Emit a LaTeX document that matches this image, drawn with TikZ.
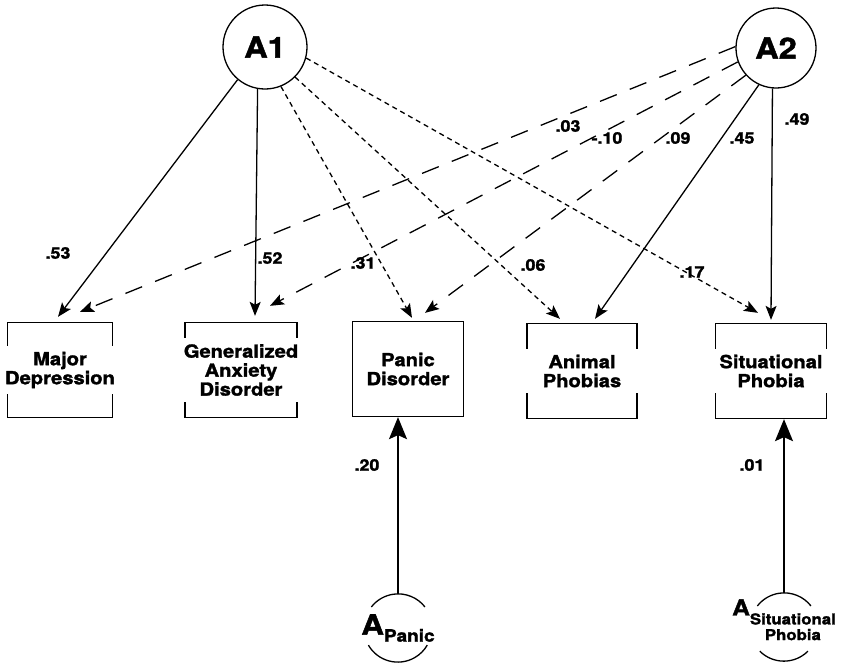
\documentclass[tikz,border=0pt]{standalone}
\usepackage{fontspec}
\setmainfont{TeX Gyre Heros}[FakeStretch=1.12, BoldFeatures={FakeBold=1.6}]
\usetikzlibrary{arrows.meta}

\newcommand{\bxfont}{\fontsize{18}{19}\selectfont\bfseries}
\newcommand{\cffont}{\fontsize{16}{16}\selectfont\bfseries}

\tikzset{
  latent/.style={circle, draw, line width=1.3pt, inner sep=0pt, font=\fontsize{29}{29}\selectfont\bfseries},
  errlat/.style={circle, minimum size=68pt, inner sep=0pt},
  box/.style={draw, line width=1.3pt, minimum height=95pt, align=center, font=\bxfont, inner sep=0pt},
  gap/.style={fill=white, align=center, font=\bxfont, inner xsep=0pt, inner ysep=6pt, minimum width=124pt},
  subname/.style={inner sep=0pt, font=\bfseries},
  coef/.style={font=\cffont, inner sep=0pt},
  load/.style={line width=1.3pt, -{Stealth[length=14pt,width=11pt,inset=3pt]}},
  shortdash/.style={load, dash pattern=on 5pt off 4pt},
  longdash/.style={load, dash pattern=on 18pt off 14pt},
  uniq/.style={line width=1.5pt, -{Stealth[length=22pt,width=18pt,inset=4pt]}}
}

\begin{document}
\begin{tikzpicture}[x=1pt, y=-1pt]
    \useasboundingbox (0,0) rectangle (855,665);

    % Common factors
    \node[latent, minimum size=84pt] (a1) at (265,47) {A1};
    \node[latent, minimum size=80pt] (a2) at (776,48) {A2};

    % Disorders
    \node[box, minimum width=105pt, label={[gap]center:{Major\\Depression}}] (md) at (60,370) {};
    \node[box, minimum width=112pt, label={[gap]center:{Generalized\\Anxiety\\Disorder}}] (gad) at (241,370) {};
    \node[box, minimum width=111pt] (pd) at (408,369) {Panic\\Disorder};
    \node[box, minimum width=110pt, label={[gap]center:{Animal\\Phobias}}] (ap) at (582,371) {};
    \node[box, minimum width=111pt, label={[gap]center:{Situational\\Phobia}}] (sp) at (771,371) {};

    % Specific factors
    \node[errlat, label={[subname]center:{{\fontsize{28}{28}\selectfont A}\raisebox{-7pt}{\fontsize{17}{17}\selectfont Panic}}}] (apanic) at (398,628) {};
    \node[errlat, label={[subname, yshift=5pt]center:{{\fontsize{22}{22}\selectfont A}\raisebox{-9pt}{\fontsize{15}{15}\selectfont\begin{tabular}[t]{@{}c@{}}Situational\\Phobia\end{tabular}}}}] (asit) at (784,627) {};
    \draw[line width=1.3pt] (apanic.38) arc[start angle=38, end angle=142, radius=34pt];
    \draw[line width=1.3pt] (apanic.210) arc[start angle=210, end angle=330, radius=34pt];
    \draw[line width=1.3pt] (asit.38) arc[start angle=38, end angle=142, radius=34pt];
    \draw[line width=1.3pt] (asit.225) arc[start angle=225, end angle=315, radius=34pt];

    % Loadings on A1
    \draw[load] (a1.-130) -- ([xshift=-2pt,yshift=5pt]md.north);
    \draw[load] (a1.-100) -- ([xshift=14pt,yshift=6pt]gad.north);
    \draw[shortdash] (a1.-68) -- ([xshift=4pt,yshift=3pt]pd.north);
    \draw[shortdash] (a1.-45) -- ([xshift=-22pt,yshift=4pt]ap.north);
    \draw[shortdash] (a1.-15) -- ([xshift=-13pt,yshift=10pt]sp.north);

    % Loadings on A2
    \draw[longdash] (a2.178) -- ([xshift=20pt,yshift=10pt]md.north);
    \draw[longdash] (a2.200) -- ([xshift=29pt,yshift=16pt]gad.north);
    \draw[longdash] (a2.222) -- ([xshift=17pt,yshift=8pt]pd.north);
    \draw[load] (a2.-115) -- ([xshift=13pt,yshift=4pt]ap.north);
    \draw[load] (a2.-95) -- ([yshift=3pt]sp.north);

    % Loadings on the specific factors
    \draw[uniq] (apanic.north) -- (apanic |- pd.south);
    \draw[uniq] (asit.north) -- (asit |- sp.south);

    % Path coefficients
    \node[coef] (c53) at (58,253) {.53};
    \node[coef] (c52) at (270,258) {.52};
    \node[coef] (c31) at (363,263) {.31};
    \node[coef] (c06) at (533,265) {.06};
    \node[coef] (c17) at (692,272) {.17};
    \node[coef] (c03) at (568,126) {.03};
    \node[coef] (c10) at (607,138) {-.10};
    \node[coef] (c09) at (678,138) {.09};
    \node[coef] (c45) at (742,138) {.45};
    \node[coef] (c49) at (797,119) {.49};
    \node[coef] (c20) at (367,465) {.20};
    \node[coef] (c01) at (752,465) {.01};
\end{tikzpicture}
\end{document}
